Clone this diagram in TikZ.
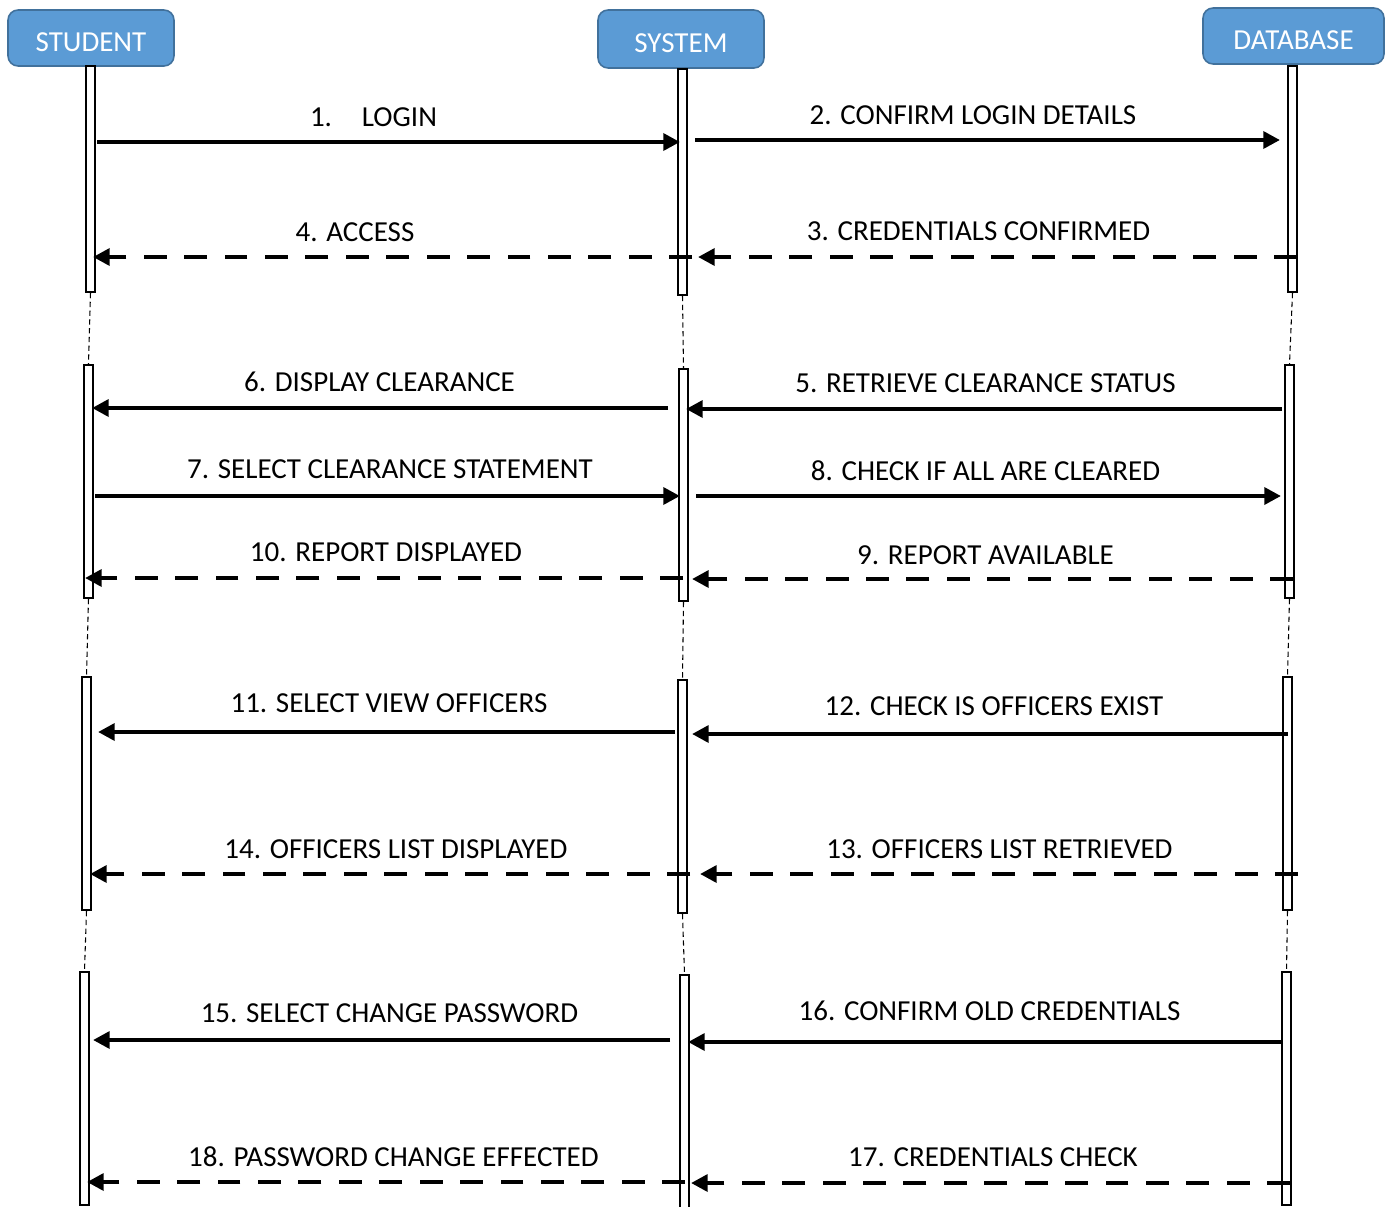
\documentclass[tikz,border=0pt]{standalone}
\usepackage{fontspec}
\setmainfont{Carlito}
\usetikzlibrary{arrows.meta,fit}
\definecolor{headfill}{HTML}{5B9BD5}
\definecolor{headline}{HTML}{41719C}
\tikzset{
  head/.style={draw=headline, fill=headfill, line width=0.9pt, rounded corners=0.2cm,
    text=white, inner sep=0pt, text height=15pt, text depth=0pt},
  actbar/.style={draw, fill=white, line width=1.1pt, inner sep=0pt},
  lifeline/.style={line width=0.6pt, dash pattern=on 3pt off 2pt},
  callmsg/.style={line width=2.8pt, -{Triangle[length=9.5pt,width=9.5pt]}},
  replymsg/.style={callmsg, dash pattern=on 13pt off 10pt},
  msglabel/.style={anchor=base, inner sep=0pt},
}
\begin{document}
\begin{tikzpicture}[x=0.02cm, y=-0.02cm, font=\fontsize{16.5}{20}\selectfont]
  \useasboundingbox (0,0) rectangle (1390,1207);
  % heads
  \node[head, minimum width=3.32cm, minimum height=1.12cm] (student) at (91,38) {STUDENT};
  \node[head, minimum width=3.32cm, minimum height=1.16cm] (system) at (681,39) {SYSTEM};
  \node[head, minimum width=3.62cm, minimum height=1.12cm] (database) at (1293.5,36) {DATABASE};
  % activation bars
  \foreach \n/\xa/\ya/\xb/\yb in {s1/86/66/95/292, s2/84/365/93/598, s3/82/677/91/910,
      s4/80/972/89/1205, y1/678/69/687/295, y2/679/369/688/601, y3/678/680/687/913,
      y4/680/975/689/1212, d1/1288/66/1297/292, d2/1285/365/1294/598,
      d3/1283/677/1292/910, d4/1282/972/1291/1205}
    \node[actbar, fit={(\xa,\ya) (\xb,\yb)}] (\n) {};
  \foreach \a/\b in {s1/s2, s2/s3, s3/s4, y1/y2, y2/y3, y3/y4, d1/d2, d2/d3, d3/d4}
    \draw[lifeline] (\a.south) -- (\b.north);
  % messages
  \foreach \i/\xa/\xb/\y/\lx/\ly/\st/\txt in {
      1/97/680/142/373.5/126.5/callmsg/1.\hspace{17pt}LOGIN,
      2/695/1280/140/973/124.5/callmsg/2. CONFIRM LOGIN DETAILS,
      3/1297/698/257/978.5/240.5/replymsg/3. CREDENTIALS CONFIRMED,
      4/692/93/257/355/241.5/replymsg/4. ACCESS,
      5/1282/686/409/985.5/392.5/callmsg/5. RETRIEVE CLEARANCE STATUS,
      6/668/92/408/379.5/391.5/callmsg/6. DISPLAY CLEARANCE,
      7/95/680/496/390/478.5/callmsg/7. SELECT CLEARANCE STATEMENT,
      8/696/1281/496/985.5/480.5/callmsg/8. CHECK IF ALL ARE CLEARED,
      9/1293/692/579/985.5/564.5/replymsg/9. REPORT AVAILABLE,
      10/683/85/578/386/561.5/replymsg/10. REPORT DISPLAYED,
      11/675/98/732/389/712.5/callmsg/11. SELECT VIEW OFFICERS,
      12/1288/692/734/994/715.5/callmsg/12. CHECK IS OFFICERS EXIST,
      13/1298/700/874/999.5/858.5/replymsg/13. OFFICERS LIST RETRIEVED,
      14/690/90/874/396/858.5/replymsg/14. OFFICERS LIST DISPLAYED,
      15/670/93/1040/389.5/1022.5/callmsg/15. SELECT CHANGE PASSWORD,
      16/1283/688/1042/989.5/1020.5/callmsg/16. CONFIRM OLD CREDENTIALS,
      17/1290/691/1183/993/1166.5/replymsg/17. CREDENTIALS CHECK,
      18/685/87/1182/393.5/1166.5/replymsg/18. PASSWORD CHANGE EFFECTED}{
    \coordinate (m\i a) at (\xa,\y);
    \coordinate (m\i b) at (\xb,\y);
    \draw[\st] (m\i a) -- (m\i b);
    \node[msglabel] (l\i) at (\lx,\ly) {\txt};
  }
\end{tikzpicture}
\end{document}
